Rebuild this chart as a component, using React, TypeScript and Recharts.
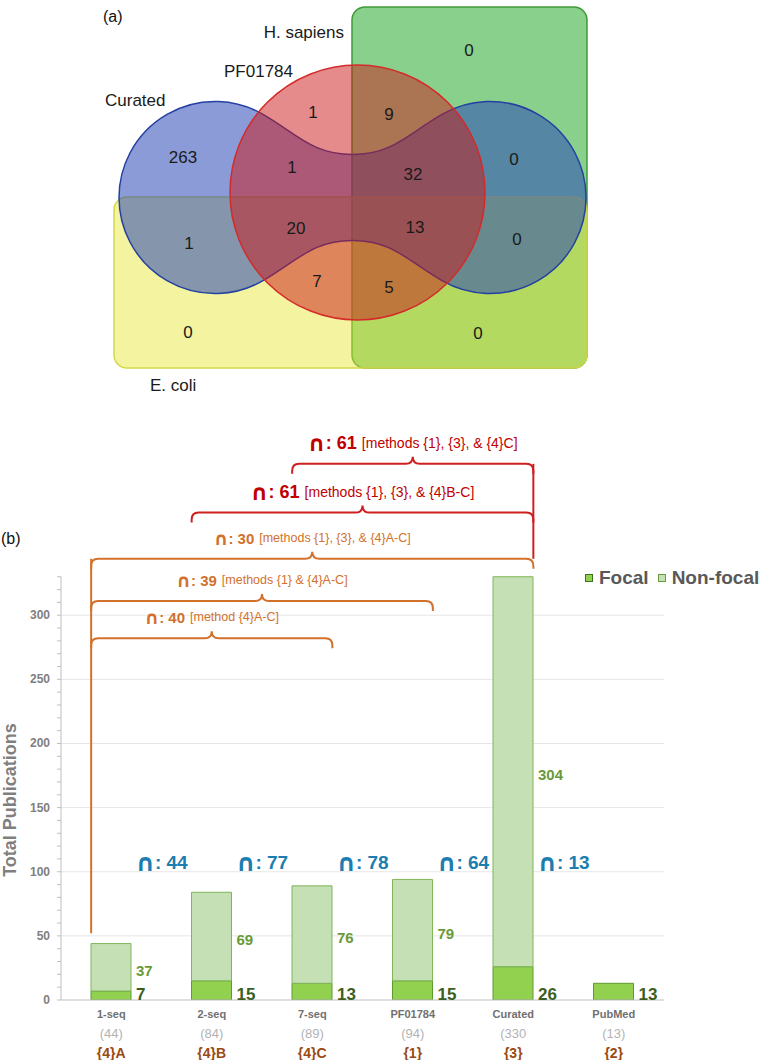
import React from "react";
import {
  ComposedChart,
  Bar,
  XAxis,
  YAxis,
  CartesianGrid,
  Scatter,
  ReferenceArea,
  ReferenceLine,
  LabelList,
  Legend,
} from "recharts";

// ─── Data ─────────────────────────────────────────────────────────────────────

// (a) Venn diagram: set names and region counts
const vennSetNames = ["H. sapiens", "PF01784", "Curated", "E. coli"];
// Hs, PF, PF∩Hs, Cur, Cur∩PF, Cur∩PF∩Hs, Cur∩Hs, Cur∩Ec, Cur∩PF∩Ec,
// all four, Cur∩Hs∩Ec, PF∩Ec, PF∩Hs∩Ec, Ec, Hs∩Ec
const vennRegionCounts = [0, 1, 9, 263, 1, 32, 0, 1, 20, 13, 0, 7, 5, 0, 0];

// (b) publications per method
const categories = ["1-seq", "2-seq", "7-seq", "PF01784", "Curated", "PubMed"];
const totalLabels = ["(44)", "(84)", "(89)", "(94)", "(330", "(13)"];
const methodTags = ["{4}A", "{4}B", "{4}C", "{1}", "{3}", "{2}"];
const focal = [7, 15, 13, 15, 26, 13];
const nonFocal = [37, 69, 76, 79, 304, 0];
const yTicks = [0, 50, 100, 150, 200, 250, 300];

// overlap between neighbouring methods
const pairOverlap = [44, 77, 78, 64, 13];

// overlap across method ranges (brackets)
const bracketFrom = [0, 0, 0, 1, 2];
const bracketTo = [2, 3, 4, 4, 4];
const bracketCounts = [40, 39, 30, 61, 61];
const bracketMethods = [
  "[method {4}A-C]",
  "[methods {1} & {4}A-C]",
  "[methods {1}, {3}, & {4}A-C]",
  "[methods {1}, {3}, & {4}B-C]",
  "[methods {1}, {3}, & {4}C]",
];

// ─── Layout ───────────────────────────────────────────────────────────────────

const FONT = '"Liberation Sans", Arial, Helvetica, sans-serif';
const CAP_FONT = '"DejaVu Sans", "Liberation Sans", sans-serif';

// venn axes: 1 unit = 1 px
const VENN_W = 763;
const VENN_H = 400;
const HS_RECT = { x1: 352, x2: 587, y1: 7, y2: 368 };
const EC_RECT = { x1: 114, x2: 587, y1: 197, y2: 368 };
const PF_CIRCLE = { x: 357.5, y: 192.5, r: 127.5 };
const CUR_BLOB = { x: 352.5, y: 197.5, d: 137.5, r: 96, waist: 43, k: 40 };
const vennCountPos = [
  [469, 50], [313, 112], [389, 114], [183, 157], [292, 167], [413, 174],
  [514, 159], [189, 243], [296, 228], [415, 227], [517, 239], [317, 281],
  [389, 287], [188, 332], [478, 333],
];
const vennNamePos = [
  { x: 344, y: 32, anchor: "end" },
  { x: 224, y: 71, anchor: "start" },
  { x: 105, y: 100, anchor: "start" },
  { x: 150, y: 385, anchor: "start" },
];

// bar chart
const BAR_W = 763;
const BAR_H = 670;
const Y_MAX = 460;
const OVERLAP_Y = 107;
const bracketLevel = [282, 311, 344, 380, 418];
const LEAD_BOTTOM = 52;
const HALF_BAR = 0.2;

const ORANGE = "#d2712c";
const RED_LINE = "#cf1f1f";
const RED_TEXT = "#c00000";

// ─── Venn shapes ──────────────────────────────────────────────────────────────

const roundRect = (fill: string, opacity: number, stroke: string) => (p: any) => (
  <rect
    x={p.x}
    y={p.y}
    width={p.width}
    height={p.height}
    rx={13}
    ry={13}
    fill={fill}
    fillOpacity={opacity}
    stroke={stroke}
    strokeWidth={1.5}
  />
);

function curatedShape(p: any) {
  const { cx, cy } = p;
  const { d, r, waist, k } = CUR_BLOB;
  const a = Math.PI / 6;
  const cs = Math.cos(a);
  const sn = Math.sin(a);
  const sx = r * sn;
  const sy = r * cs;
  const tl = [cx - d + sx, cy - sy];
  const tr = [cx + d - sx, cy - sy];
  const br = [cx + d - sx, cy + sy];
  const bl = [cx - d + sx, cy + sy];
  const path = [
    `M${tl[0]},${tl[1]}`,
    `C${tl[0] + k * cs},${tl[1] + k * sn} ${cx - k},${cy - waist} ${cx},${cy - waist}`,
    `C${cx + k},${cy - waist} ${tr[0] - k * cs},${tr[1] + k * sn} ${tr[0]},${tr[1]}`,
    `A${r},${r} 0 1 1 ${br[0]},${br[1]}`,
    `C${br[0] - k * cs},${br[1] - k * sn} ${cx + k},${cy + waist} ${cx},${cy + waist}`,
    `C${cx - k},${cy + waist} ${bl[0] + k * cs},${bl[1] - k * sn} ${bl[0]},${bl[1]}`,
    `A${r},${r} 0 1 1 ${tl[0]},${tl[1]}`,
    "Z",
  ].join(" ");
  return <path d={path} fill="#2a49b6" fillOpacity={0.55} stroke="#2440a0" strokeWidth={1.5} />;
}

const pfShape = (p: any) => (
  <circle
    cx={p.cx}
    cy={p.cy}
    r={PF_CIRCLE.r}
    fill="#cb1717"
    fillOpacity={0.5}
    stroke="#d42a2a"
    strokeWidth={1.5}
  />
);

const countLabel = (p: any) => (
  <text
    x={p.cx}
    y={p.cy}
    textAnchor="middle"
    dominantBaseline="central"
    fontFamily={FONT}
    fontSize={17}
    fill="#1a1a1a"
  >
    {p.payload.v}
  </text>
);

const nameLabel = (p: any) => (
  <text
    x={p.cx}
    y={p.cy}
    textAnchor={p.payload.anchor}
    dominantBaseline="central"
    fontFamily={FONT}
    fontSize={17}
    fill="#1a1a1a"
  >
    {p.payload.name}
  </text>
);

function VennChart() {
  const countData = vennRegionCounts.map((v, i) => ({
    x: vennCountPos[i][0],
    y: vennCountPos[i][1],
    v,
  }));
  const nameData = vennSetNames.map((name, i) => ({ ...vennNamePos[i], name }));
  return (
    <ComposedChart width={VENN_W} height={VENN_H} margin={{ top: 0, right: 0, bottom: 0, left: 0 }}>
      <XAxis type="number" dataKey="x" domain={[0, VENN_W]} hide allowDataOverflow />
      <YAxis type="number" dataKey="y" domain={[0, VENN_H]} reversed hide allowDataOverflow />
      <ReferenceArea {...HS_RECT} shape={roundRect("#15a11b", 0.5, "#3d9b36")} />
      <ReferenceArea {...EC_RECT} shape={roundRect("#e4e42c", 0.45, "#d3d84a")} />
      <Scatter
        data={[{ x: CUR_BLOB.x, y: CUR_BLOB.y }]}
        shape={curatedShape}
        isAnimationActive={false}
      />
      <Scatter
        data={[{ x: PF_CIRCLE.x, y: PF_CIRCLE.y }]}
        shape={pfShape}
        isAnimationActive={false}
      />
      <Scatter data={countData} shape={countLabel} isAnimationActive={false} />
      <Scatter data={nameData} shape={nameLabel} isAnimationActive={false} />
    </ComposedChart>
  );
}

// ─── Bar chart pieces ─────────────────────────────────────────────────────────

const YTick = (p: any) => {
  const v = p.payload.value;
  if (!yTicks.includes(v)) return null;
  return (
    <text
      x={p.x}
      y={p.y}
      textAnchor="end"
      dominantBaseline="central"
      fontFamily={FONT}
      fontSize={12}
      fontWeight="bold"
      fill="#808080"
    >
      {v}
    </text>
  );
};

const XTick = (p: any) => {
  const i = categories.indexOf(p.payload.value);
  return (
    <g fontFamily={FONT} textAnchor="middle">
      <text x={p.x} y={p.y + 14} dominantBaseline="central" fontSize={11} fontWeight="bold" fill="#707070">
        {categories[i]}
      </text>
      <text x={p.x} y={p.y + 33} dominantBaseline="central" fontSize={13} fill="#b3b3b3">
        {totalLabels[i]}
      </text>
      <text x={p.x} y={p.y + 53} dominantBaseline="central" fontSize={14} fontWeight="bold" fill="#9a4a12">
        {methodTags[i]}
      </text>
    </g>
  );
};

const FocalLabel = (p: any) => {
  const vb = p.viewBox ?? p;
  if (!p.value) return null;
  return (
    <text
      x={vb.x + vb.width + 5}
      y={vb.y + vb.height}
      fontFamily={FONT}
      fontSize={17}
      fontWeight="bold"
      fill="#3b5e1e"
    >
      {p.value}
    </text>
  );
};

const NonFocalLabel = (p: any) => {
  const vb = p.viewBox ?? p;
  if (!p.value) return null;
  return (
    <text
      x={vb.x + vb.width + 5}
      y={vb.y + vb.height / 2 + 3}
      dominantBaseline="central"
      fontFamily={FONT}
      fontSize={15}
      fontWeight="bold"
      fill="#6a9a38"
    >
      {p.value}
    </text>
  );
};

const overlapLabel = (p: any) => (
  <text
    x={p.cx}
    y={p.cy}
    textAnchor="middle"
    dominantBaseline="central"
    fontFamily={FONT}
    fontSize={19}
    fontWeight="bold"
    fill="#1b7db0"
  >
    <tspan fontFamily={CAP_FONT} fontSize={24}>∩</tspan>: {p.payload.v}
  </text>
);

const bracketShape = (i: number) => (p: any) => {
  const { x1, x2, y1: y } = p;
  const red = i >= 3;
  const line = red ? RED_LINE : ORANGE;
  const text = red ? RED_TEXT : ORANGE;
  const r = 7;
  const drop = 10;
  const mx = (x1 + x2) / 2;
  const d =
    `M${x1},${y + drop} L${x1},${y + r} Q${x1},${y} ${x1 + r},${y} ` +
    `L${mx - 7},${y} Q${mx},${y} ${mx},${y - 7} Q${mx},${y} ${mx + 7},${y} ` +
    `L${x2 - r},${y} Q${x2},${y} ${x2},${y + r} L${x2},${y + drop}`;
  return (
    <g>
      <path d={d} fill="none" stroke={line} strokeWidth={2} />
      <text
        x={mx}
        y={y - 21}
        textAnchor="middle"
        dominantBaseline="central"
        fontFamily={FONT}
        fill={text}
      >
        <tspan fontFamily={CAP_FONT} fontWeight="bold" fontSize={red ? 22 : 18}>
          ∩
        </tspan>
        <tspan fontWeight="bold" fontSize={red ? 18 : 15}>
          : {bracketCounts[i]}
        </tspan>
        <tspan fontSize={red ? 14 : 12.5} dx={5}>
          {bracketMethods[i]}
        </tspan>
      </text>
    </g>
  );
};

const legendItems = [
  { name: "Focal", fill: "#92d050", stroke: "#3f6f1f" },
  { name: "Non-focal", fill: "#c5e0b4", stroke: "#6a9a3a" },
];

function BarPanel() {
  const data = categories.map((name, i) => ({ name, focal: focal[i], nonFocal: nonFocal[i] }));
  const overlapData = pairOverlap.map((v, i) => ({ x: i + 0.5, y: OVERLAP_Y, v }));
  const minorTicks = Array.from({ length: 34 }, (_, i) => i * 10);
  const leadX = bracketFrom[0] - HALF_BAR;
  const redX = bracketTo[4] + HALF_BAR;

  return (
    <ComposedChart
      width={BAR_W}
      height={BAR_H}
      data={data}
      margin={{ top: 20, right: 99, bottom: 0, left: 9 }}
    >
      <CartesianGrid vertical={false} horizontalValues={yTicks.slice(1)} stroke="#e6e6e6" />
      <XAxis
        dataKey="name"
        interval={0}
        height={60}
        tickLine={false}
        tickSize={0}
        tickMargin={0}
        axisLine={{ stroke: "#bfbfbf" }}
        tick={<XTick />}
      />
      <XAxis xAxisId="num" type="number" dataKey="x" domain={[-0.5, 5.5]} hide allowDataOverflow />
      <YAxis
        type="number"
        domain={[0, Y_MAX]}
        ticks={minorTicks}
        interval={0}
        width={52}
        allowDataOverflow
        axisLine={false}
        tickLine={{ stroke: "#bfbfbf" }}
        tickSize={4}
        tickMargin={7}
        tick={<YTick />}
        label={{
          content: () => (
            <text
              x={10}
              y={410}
              transform="rotate(-90 10 410)"
              textAnchor="middle"
              dominantBaseline="central"
              fontFamily={FONT}
              fontSize={18}
              fontWeight="bold"
              fill="#7f7f7f"
            >
              Total Publications
            </text>
          ),
        }}
      />

      {/* y axis line, only up to the tallest bar */}
      <ReferenceLine
        xAxisId="num"
        segment={[{ x: -0.5, y: 0 }, { x: -0.5, y: 330 }]}
        stroke="#bfbfbf"
      />

      <Bar
        dataKey="focal"
        stackId="a"
        barSize={40}
        fill="#92d050"
        stroke="#5e9a32"
        isAnimationActive={false}
      >
        <LabelList dataKey="focal" content={FocalLabel} />
      </Bar>
      <Bar
        dataKey="nonFocal"
        stackId="a"
        barSize={40}
        fill="#c5e0b4"
        stroke="#80b55a"
        isAnimationActive={false}
      >
        <LabelList dataKey="nonFocal" content={NonFocalLabel} />
      </Bar>

      {/* bracket lead lines */}
      <ReferenceLine
        xAxisId="num"
        segment={[{ x: leadX, y: LEAD_BOTTOM }, { x: leadX, y: bracketLevel[2] }]}
        stroke={ORANGE}
        strokeWidth={2}
      />
      <ReferenceLine
        xAxisId="num"
        segment={[{ x: redX, y: bracketLevel[2] }, { x: redX, y: bracketLevel[4] }]}
        stroke={RED_LINE}
        strokeWidth={2}
      />
      {bracketCounts.map((_, i) => (
        <ReferenceLine
          key={i}
          xAxisId="num"
          segment={[
            { x: bracketFrom[i] - HALF_BAR, y: bracketLevel[i] },
            { x: bracketTo[i] + HALF_BAR, y: bracketLevel[i] },
          ]}
          shape={bracketShape(i)}
        />
      ))}

      <Scatter
        xAxisId="num"
        data={overlapData}
        dataKey="y"
        shape={overlapLabel}
        isAnimationActive={false}
      />

      <Legend
        layout="horizontal"
        verticalAlign="middle"
        align="center"
        wrapperStyle={{ top: 176, left: 585, width: "auto" }}
        content={() => (
          <div
            style={{
              display: "flex",
              alignItems: "center",
              whiteSpace: "nowrap",
              fontFamily: FONT,
              fontWeight: 700,
              fontSize: 19,
              color: "#595959",
              lineHeight: "24px",
            }}
          >
            {legendItems.map((s) => (
              <span key={s.name} style={{ display: "flex", alignItems: "center", marginRight: 9 }}>
                <span
                  style={{
                    width: 6,
                    height: 6,
                    background: s.fill,
                    border: `1px solid ${s.stroke}`,
                    marginRight: 6,
                  }}
                />
                {s.name}
              </span>
            ))}
          </div>
        )}
      />
    </ComposedChart>
  );
}

// ─── App ──────────────────────────────────────────────────────────────────────

export default function App() {
  return (
    <div
      style={{
        position: "absolute",
        left: 0,
        top: 0,
        width: 763,
        height: 1060,
        background: "#fff",
        fontFamily: FONT,
        overflow: "hidden",
      }}
    >
      <div style={{ position: "absolute", left: 0, top: 0 }}>
        <VennChart />
      </div>
      <span style={{ position: "absolute", left: 103, top: 8, fontSize: 16, color: "#111" }}>(a)</span>
      <div style={{ position: "absolute", left: 0, top: 390 }}>
        <BarPanel />
      </div>
      <span style={{ position: "absolute", left: 1, top: 530, fontSize: 16, color: "#111" }}>(b)</span>
    </div>
  );
}
